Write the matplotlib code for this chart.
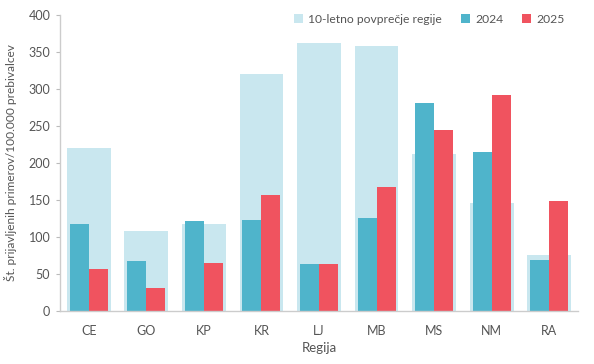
import matplotlib.pyplot as plt
import numpy as np

plt.rcParams['font.family'] = ['Lato', 'DejaVu Sans']

regions = ['CE', 'GO', 'KP', 'KR', 'LJ', 'MB', 'MS', 'NM', 'RA']
avg10 = [220, 108, 118, 320, 362, 358, 212, 146, 75]
y2024 = [118, 67, 122, 123, 64, 126, 281, 215, 69]
y2025 = [57, 31, 65, 156, 63, 167, 244, 292, 148]

c_avg = '#C9E7EF'
c_24 = '#4FB4CB'
c_25 = '#F0535F'
txt = '#555555'

fig = plt.figure(figsize=(5.94, 3.64), dpi=100)
ax = fig.add_axes([0.101, 0.146, 0.872, 0.813])

x = np.arange(len(regions))
ax.bar(x, avg10, width=0.76, color=c_avg, label='10-letno povprečje regije', zorder=1)
ax.bar(x - 0.165, y2024, width=0.33, color=c_24, label='2024', zorder=2)
ax.bar(x + 0.165, y2025, width=0.33, color=c_25, label='2025', zorder=2)

ax.set_xlim(-0.5, 8.5)
ax.set_ylim(0, 400)
ax.set_yticks(range(0, 401, 50))
ax.set_xticks(x)
ax.set_xticklabels(regions)

for s in ['top', 'right']:
    ax.spines[s].set_visible(False)
for s in ['left', 'bottom']:
    ax.spines[s].set_color('#cccccc')
    ax.spines[s].set_linewidth(1)

ax.tick_params(axis='y', colors='#bbbbbb', labelcolor=txt, labelsize=9, length=3, pad=4)
ax.tick_params(axis='x', length=0, labelcolor=txt, labelsize=9, pad=10)

ax.set_xlabel('Regija', color=txt, fontsize=9.5, labelpad=4)
ax.set_ylabel('Št. prijavljenih primerov/100.000 prebivalcev', color=txt, fontsize=8.6, labelpad=8)

leg = ax.legend(loc='upper right', bbox_to_anchor=(0.995, 1.04), ncol=3, frameon=False,
                fontsize=8.7, handlelength=0.75, handleheight=0.75, handletextpad=0.4,
                columnspacing=1.6, labelcolor=txt)

fig.savefig('out.png', dpi=100)
